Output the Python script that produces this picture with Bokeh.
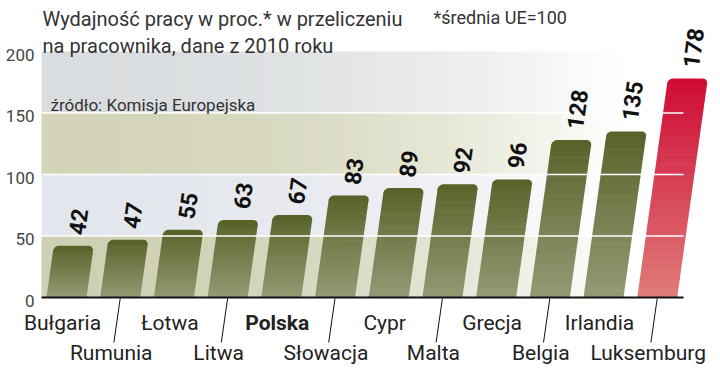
import numpy as np
from bokeh.plotting import figure
from bokeh.models import Range1d
from bokeh.core.properties import value
from bokeh.embed import file_html
from bokeh.resources import INLINE

# ---------------- data ----------------
categories = ["Bułgaria", "Rumunia", "Łotwa", "Litwa", "Polska", "Słowacja",
              "Cypr", "Malta", "Grecja", "Belgia", "Irlandia", "Luksemburg"]
values = [42, 47, 55, 63, 67, 83, 89, 92, 96, 128, 135, 178]
highlight = "Luksemburg"
bold_category = "Polska"
y_ticks = [0, 50, 100, 150, 200]
band_edges = [0, 50, 100, 150, 200]
title_lines = ["Wydajność pracy w proc.* w przeliczeniu",
               "na pracownika, dane z 2010 roku"]
note_text = "*średnia UE=100"
source_text = "źródło: Komisja Europejska"

# ---------------- layout / style ----------------
PX_X = 53.7          # px per category
PX_Y = 1.23          # px per value unit
BASE_PX = 297        # pixel row of value 0
CAT0_PX = 66         # pixel column of first category
W, H = 712, 366


def xpx(px):
    return (px - CAT0_PX) / PX_X


def ypx(py):
    return (BASE_PX - py) / PX_Y


X0, X1 = xpx(0), xpx(W)
Y0, Y1 = ypx(H), ypx(0)
BAND_X0 = xpx(41)
X_AXIS_END = xpx(683)
X_FADE = xpx(620)
K = 0.14 * PX_Y / PX_X   # shear (x units per y unit)
FONT = value("Roboto")

band_left_colors = ["#cfd0b3", "#e3e6ec", "#d3d4b8", "#dadddf"]
olive_top, olive_bot = "#58632a", "#939b74"
red_top, red_bot = "#cf0b36", "#e07c78"


def hex2rgb(h):
    h = h.lstrip("#")
    return np.array([int(h[i:i + 2], 16) for i in (0, 2, 4)], dtype=float)


def mix(c1, c2, t):
    a, b = hex2rgb(c1), hex2rgb(c2)
    c = a + (b - a) * t
    return "#%02x%02x%02x" % tuple(int(round(v)) for v in c)


p = figure(width=W, height=H, output_backend="svg", toolbar_location=None,
           x_range=Range1d(X0, X1), y_range=Range1d(Y0, Y1),
           x_axis_location=None, y_axis_location=None,
           min_border_left=0, min_border_right=0,
           min_border_top=0, min_border_bottom=0)
p.outline_line_color = None
p.xgrid.visible = False
p.ygrid.visible = False
p.background_fill_color = "white"
p.border_fill_color = "white"

# background bands with horizontal fade to white
n_strips = 60
strip_edges = np.linspace(BAND_X0, X_FADE, n_strips + 1)
bl, br, bb, bt, bc = [], [], [], [], []
for k in range(len(band_edges) - 1):
    for j in range(n_strips):
        t = (j + 0.5) / n_strips
        m = t ** 2.2
        bl.append(strip_edges[j])
        br.append(strip_edges[j + 1] + 0.01)
        bb.append(band_edges[k])
        bt.append(band_edges[k + 1])
        bc.append(mix(band_left_colors[k], "#ffffff", m))
p.quad(left=bl, right=br, bottom=bb, top=bt, fill_color=bc, line_color=None)

# y tick labels (value scale)
p.text(x=[xpx(34)] * len(y_ticks), y=y_ticks, text=[str(t) for t in y_ticks],
       y_offset=3, text_font=FONT, text_font_size="17px", text_color="#444444",
       text_align="right", text_baseline="middle")

# bars: sheared, vertical gradient, rounded top
hw = 0.372
rx, ry = 5.0 / PX_X, 5.0 / PX_Y
n_sl = 24
xs, ys, cols = [], [], []
for i, (cat, v) in enumerate(zip(categories, values)):
    ctop, cbot = (red_top, red_bot) if cat == highlight else (olive_top, olive_bot)
    y_cap = v - ry
    edges = np.linspace(0, y_cap, n_sl + 1)
    for j in range(n_sl):
        y0 = edges[j]
        y1 = edges[j + 1] + 0.5
        t = ((edges[j] + edges[j + 1]) / 2) / v
        xu = [i - hw, i + hw, i + hw, i - hw]
        yy = [y0, y0, y1, y1]
        xs.append([x + K * y for x, y in zip(xu, yy)])
        ys.append(yy)
        cols.append(mix(cbot, ctop, t))
    xu = [i - hw, i + hw]
    yy = [y_cap - 0.3, y_cap - 0.3]
    for a in np.linspace(0, np.pi / 2, 8):
        xu.append(i + hw - rx + rx * np.cos(a))
        yy.append(v - ry + ry * np.sin(a))
    for a in np.linspace(np.pi / 2, np.pi, 8):
        xu.append(i - hw + rx + rx * np.cos(a))
        yy.append(v - ry + ry * np.sin(a))
    xs.append([x + K * y for x, y in zip(xu, yy)])
    ys.append(yy)
    cols.append(ctop)
p.patches(xs=xs, ys=ys, fill_color=cols, line_color=None)

# white grid lines over everything
grid_vals = [b for b in band_edges[1:-1]]
p.segment(x0=[BAND_X0] * len(grid_vals), y0=grid_vals, x1=[X_AXIS_END] * len(grid_vals),
          y1=grid_vals, line_color="white", line_width=1.6)

# baseline
p.segment(x0=[BAND_X0], y0=[0], x1=[X_AXIS_END], y1=[0], line_color="#111111", line_width=1.8)

# leader lines for lower-row labels
idx = np.arange(len(categories))
odd = idx[1::2]
LEAD = ypx(342)
p.segment(x0=odd, y0=[-0.8] * len(odd), x1=odd + K * LEAD, y1=[LEAD] * len(odd),
          line_color="#111111", line_width=1)

# category labels
lab_x = [float(i) for i in idx]
lab_y = [ypx(322) if i % 2 == 0 else ypx(352) for i in idx]
lab_off = [-4 if i % 2 == 0 else -9 for i in idx]
lab_style = ["bold" if c == bold_category else "normal" for c in categories]
p.text(x=lab_x, y=lab_y, text=categories, x_offset=lab_off, text_font=FONT,
       text_font_size="21px", text_font_style=lab_style, text_color="#222222",
       text_align="center", text_baseline="middle")

# value labels
GAP = 9.0
vx = [i + K * (v + GAP) for i, v in zip(idx, values)]
vy = [v + GAP for v in values]
p.text(x=vx, y=vy, text=[str(v) for v in values], angle=1.431, x_offset=1,
       text_font=FONT, text_font_size="23px", text_font_style="bold",
       text_color="#111111", text_align="left", text_baseline="middle")

# titles and notes
tx = xpx(42)
p.text(x=[tx], y=[ypx(18)], text=[title_lines[0]], text_font=FONT,
       text_font_size="20px", text_color="#333333", text_baseline="alphabetic")
p.text(x=[tx], y=[ypx(45)], text=[title_lines[1]], text_font=FONT,
       text_font_size="20px", text_color="#333333", text_baseline="alphabetic")
p.text(x=[xpx(433)], y=[ypx(17)], text=[note_text], text_font=FONT,
       text_font_size="18px", text_color="#333333", text_baseline="alphabetic")
p.text(x=[xpx(50)], y=[ypx(104)], text=[source_text], text_font=FONT,
       text_font_size="17px", text_color="#333333", text_baseline="alphabetic")

open("out.html", "w").write(file_html(p, INLINE))
